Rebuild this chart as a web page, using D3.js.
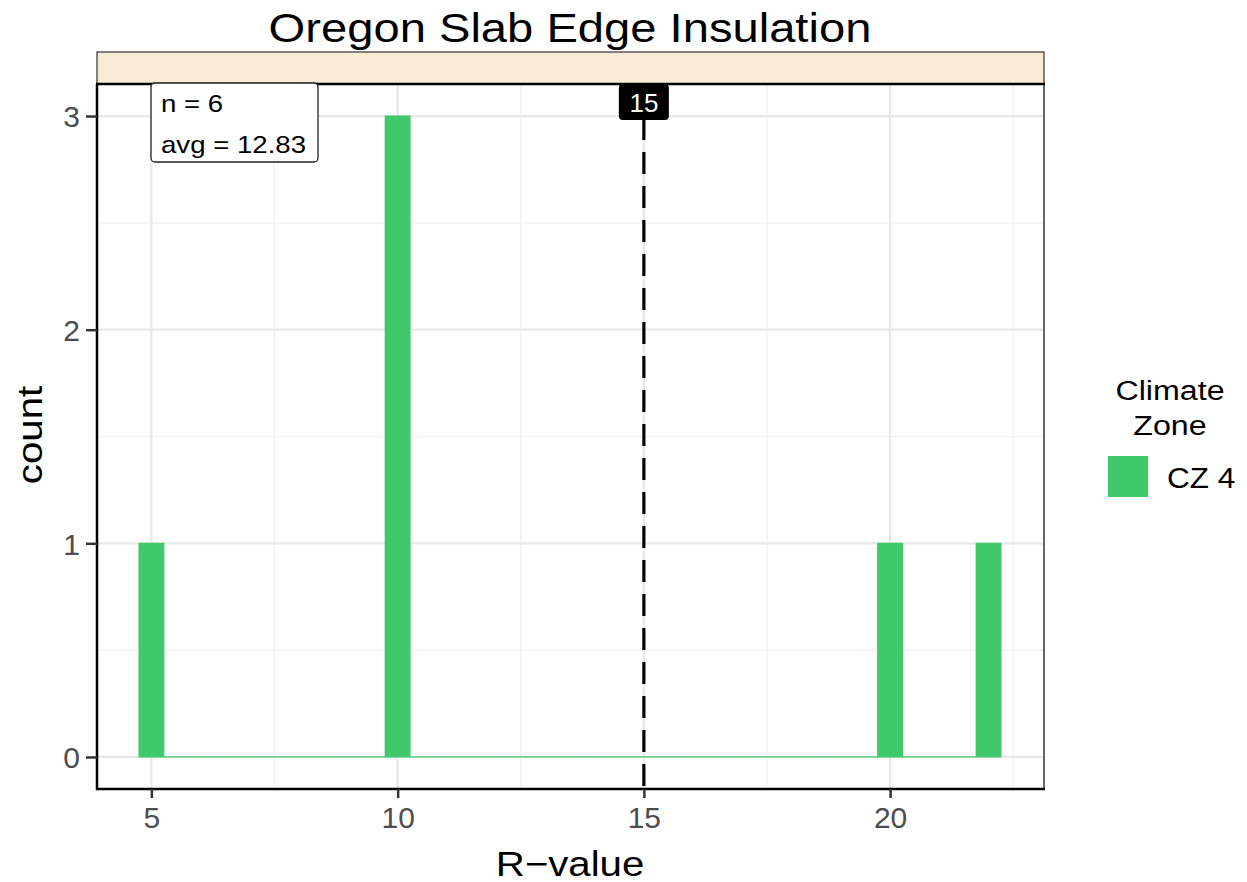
<!DOCTYPE html>
<html><head><meta charset="utf-8">
<script src="https://cdn.jsdelivr.net/npm/d3@7"></script>
<style>body{margin:0;background:#fff;} text{font-family:"Liberation Sans",Arial,sans-serif;}</style>
</head><body>
<svg id="c" width="1247" height="882"></svg>
<script>
const rValues = [5, 10, 10, 10, 20, 22];
const binWidth = 0.5;
const binStart = 4.75, binEnd = 22.25;
const xTicks = [5, 10, 15, 20];
const xMinor = [7.5, 12.5, 17.5, 22.5];
const yTicks = [0, 1, 2, 3];
const yMinor = [0.5, 1.5, 2.5];
const refLine = 15;
const seriesName = "CZ 4";
const legendTitle = ["Climate", "Zone"];
const title = "Oregon Slab Edge Insulation";
const xLabel = "R\u2212value";
const yLabel = "count";

const svg = d3.select("#c");
const L = 97, R = 1044, T = 84, B = 789;
const x = d3.scaleLinear().domain([3.875, 23.125]).range([96, 1044]);
const y = d3.scaleLinear().domain([-0.15, 3.15]).range([B, T]);
const green = "#3FC96B";
const SX = 1.15;

function txt(px, py, str, size, anchor, opts = {}) {
  const rot = opts.rotate ? ` rotate(${opts.rotate})` : "";
  const sx = opts.sx == null ? SX : opts.sx;
  const t = svg.append("text")
    .attr("transform", `translate(${px},${py})${rot} scale(${sx},1)`)
    .attr("text-anchor", anchor).attr("fill", opts.fill || "#000")
    .style("font-size", size + "px").text(str);
  return t;
}

// strip
svg.append("rect").attr("x", L).attr("y", 52).attr("width", R - L).attr("height", T - 52)
  .attr("fill", "#FAEBD7").attr("stroke", "#333").attr("stroke-width", 1.2);

// grid
const g = svg.append("g");
g.selectAll(".xm").data(xMinor).join("line").attr("x1", d => x(d)).attr("x2", d => x(d))
  .attr("y1", T).attr("y2", B).attr("stroke", "#EFEFEF").attr("stroke-width", 1.2);
g.selectAll(".ym").data(yMinor).join("line").attr("y1", d => y(d)).attr("y2", d => y(d))
  .attr("x1", L).attr("x2", R).attr("stroke", "#EFEFEF").attr("stroke-width", 1.2);
g.selectAll(".xM").data(xTicks).join("line").attr("x1", d => x(d)).attr("x2", d => x(d))
  .attr("y1", T).attr("y2", B).attr("stroke", "#E8E8E8").attr("stroke-width", 2.2);
g.selectAll(".yM").data(yTicks).join("line").attr("y1", d => y(d)).attr("y2", d => y(d))
  .attr("x1", L).attr("x2", R).attr("stroke", "#E8E8E8").attr("stroke-width", 2.2);

// histogram (path so zero-count bins still draw their outline)
const thresholds = d3.range(binStart, binEnd + 1e-9, binWidth);
const bins = d3.bin().domain([binStart, binEnd]).thresholds(thresholds)(rValues);
svg.append("g").selectAll("path").data(bins).join("path")
  .attr("d", d => `M${x(d.x0)},${y(0)}V${y(d.length)}H${x(d.x1)}V${y(0)}Z`)
  .attr("fill", green).attr("stroke", green).attr("stroke-width", 1.3);

// dashed reference
svg.append("line").attr("x1", x(refLine)).attr("x2", x(refLine)).attr("y1", T).attr("y2", B)
  .attr("stroke", "#000").attr("stroke-width", 3.2).attr("stroke-dasharray", "22,12");

// border & axis lines
svg.append("line").attr("x1", R).attr("x2", R).attr("y1", T).attr("y2", B).attr("stroke", "#333").attr("stroke-width", 1.5);
svg.append("line").attr("x1", L - 1).attr("x2", R + 1).attr("y1", T).attr("y2", T).attr("stroke", "#000").attr("stroke-width", 2.5);
svg.append("line").attr("x1", L).attr("x2", L).attr("y1", T).attr("y2", B + 1).attr("stroke", "#000").attr("stroke-width", 2.5);
svg.append("line").attr("x1", L - 1).attr("x2", R + 1).attr("y1", B).attr("y2", B).attr("stroke", "#000").attr("stroke-width", 2.5);

// axes
const xa = svg.append("g").attr("transform", `translate(0,${B})`)
  .call(d3.axisBottom(x).tickValues(xTicks).tickFormat(d3.format("d")).tickSize(9).tickPadding(7));
xa.select(".domain").remove();
xa.selectAll("line").attr("stroke", "#333").attr("stroke-width", 2.5);
xa.selectAll("text").attr("fill", "#4D4D4D").attr("dy", "0.75em").style("font-size", "30px");
const ya = svg.append("g").attr("transform", `translate(${L},0)`)
  .call(d3.axisLeft(y).tickValues(yTicks).tickFormat(d3.format("d")).tickSize(11).tickPadding(6));
ya.select(".domain").remove();
ya.selectAll("line").attr("stroke", "#333").attr("stroke-width", 2.5);
ya.selectAll("text").attr("fill", "#4D4D4D").attr("dy", "0.36em").style("font-size", "30px");

// annotation box
svg.append("rect").attr("x", 151).attr("y", 83).attr("width", 167).attr("height", 79).attr("rx", 4)
  .attr("fill", "#fff").attr("stroke", "#222").attr("stroke-width", 1.3);
txt(161, 112, "n = " + rValues.length, 24, "start");
txt(161, 153, "avg = " + d3.mean(rValues).toFixed(2), 24, "start");

// ref label
svg.append("rect").attr("x", x(refLine) - 25).attr("y", 84).attr("width", 50).attr("height", 36).attr("rx", 4).attr("fill", "#000");
txt(x(refLine), 112, String(refLine), 26, "middle", { fill: "#fff", sx: 1 });

// titles
txt(570, 42, title, 41, "middle");
txt(570, 876, xLabel, 35, "middle");
txt(42, 435, yLabel, 35, "middle", { rotate: -90 });

// legend
txt(1170, 400, legendTitle[0], 28, "middle");
txt(1170, 435, legendTitle[1], 28, "middle");
svg.append("rect").attr("x", 1108).attr("y", 456).attr("width", 40).attr("height", 41).attr("fill", green);
txt(1167, 488, seriesName, 30, "start", { sx: 1.05 });
</script>
</body></html>
